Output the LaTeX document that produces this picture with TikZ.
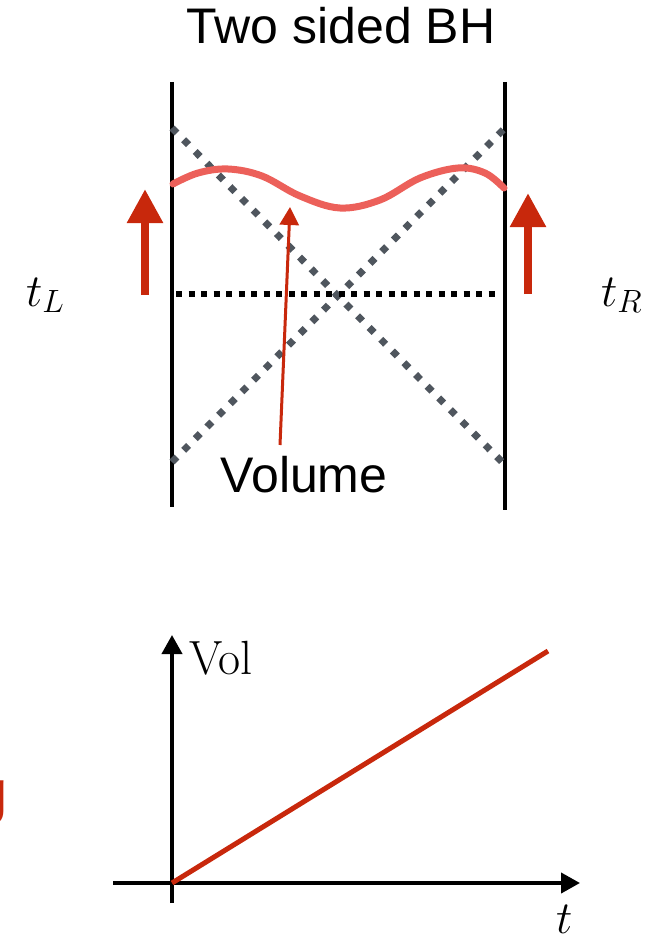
\RequirePackage{fix-cm}
\documentclass[tikz,border=0pt]{standalone}
\usepackage{fontspec}
\setsansfont{Liberation Sans}
\usetikzlibrary{arrows.meta}
\definecolor{wavered}{HTML}{EC605A}
\definecolor{arrred}{HTML}{C8280C}
\definecolor{dotgray}{HTML}{4F565E}
\begin{document}
\begin{tikzpicture}[x=1pt,y=-1pt,
  wall/.style={line width=3.5pt,black},
  diag/.style={line width=7pt,dotgray,dash pattern=on 7pt off 9.5pt},
  hdots/.style={line width=6pt,black,dash pattern=on 6pt off 6.5pt},
  wave/.style={line width=7pt,wavered,line cap=round},
  bigarrow/.style={line width=8.5pt,arrred,-{Triangle[width=34pt,length=34pt]}},
  ptr/.style={line width=3pt,arrred,-{Triangle[width=19pt,length=18pt]}},
  axis/.style={line width=4pt,black,-{Triangle[width=20pt,length=19pt]}},
  sanslabel/.style={inner sep=0pt,font=\sffamily\fontsize{50}{58}\selectfont},
  mathlabel/.style={inner sep=0pt,font=\fontsize{46}{54}\selectfont}]
\clip (0,0) rectangle (669,936);
\useasboundingbox (0,0) rectangle (669,936);

% title
\node[sanslabel,anchor=base] (title) at (341,44) {Two sided BH};

% walls
\coordinate (LT) at (172,82);
\coordinate (LB) at (172,507);
\coordinate (RT) at (505,82);
\coordinate (RB) at (505,510);
\draw[wall] (LT) -- (LB);
\draw[wall] (RT) -- (RB);

% horizons
\coordinate (d1s) at (172,128);
\coordinate (d1e) at (505,465);
\coordinate (d2s) at (172,462);
\coordinate (d2e) at (505,128);
\draw[diag] (d1s) -- (d1e);
\draw[diag] (d2s) -- (d2e);

% time slice
\coordinate (hl) at (176,294);
\coordinate (hr) at (500,294);
\draw[hdots] (hl) -- (hr);

% wave (maximal volume slice)
\draw[wave] plot[smooth,tension=0.6] coordinates {(173,184) (198,173) (228,169) (262,176) (300,196) (340,208) (380,200) (420,178) (458,168) (485,173) (504,188)};

% time arrows
\coordinate (aLs) at (145,295);
\coordinate (aLe) at (145,189);
\coordinate (aRs) at (528,294);
\coordinate (aRe) at (528,193);
\draw[bigarrow] (aLs) -- (aLe);
\draw[bigarrow] (aRs) -- (aRe);

% labels t_L, t_R
\node[mathlabel,anchor=base west] (tL) at (26,306) {$t_L$};
\node[mathlabel,anchor=base west] (tR) at (601,306) {$t_R$};

% Volume pointer
\node[sanslabel,anchor=base] (volume) at (304,492) {Volume};
\coordinate (ps) at (280,445);
\coordinate (pe) at (290,207);
\draw[ptr] (ps) -- (pe);

% bottom plot
\coordinate (yb) at (172,903);
\coordinate (yt) at (172,635);
\coordinate (xl) at (113,883);
\coordinate (xr) at (580,883);
\draw[axis] (yb) -- (yt);
\draw[axis] (xl) -- (xr);
\coordinate (o) at (172,883);
\coordinate (le) at (548,651);
\draw[line width=5pt,arrred] (o) -- (le);
\node[inner sep=0pt,anchor=base west,font=\fontsize{48}{56}\selectfont] (vollab) at (189,674) {Vol};
\node[mathlabel,anchor=base west] (tlab) at (556,933) {$t$};

% clipped red letter at left edge
\node[inner sep=0pt,anchor=base east,text=arrred,font=\sffamily\fontsize{60}{70}\selectfont] (gcut) at (8.5,812) {g};
\end{tikzpicture}
\end{document}
